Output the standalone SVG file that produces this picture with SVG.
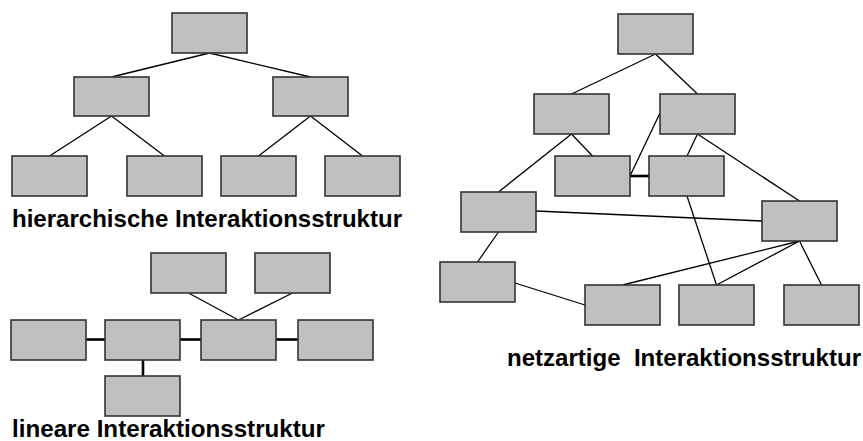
<svg xmlns="http://www.w3.org/2000/svg" width="863" height="441" viewBox="0 0 863 441">
<style>
.b{fill:#c0c0c0;stroke:#333;stroke-width:1.6}
.l{stroke:#000;stroke-width:1.3;fill:none}
.t{stroke:#000;stroke-width:2.6;fill:none}
.lbl{font-family:"Liberation Sans",Arial,sans-serif;font-weight:bold;font-size:24px;fill:#000}
</style>
<rect width="863" height="441" fill="#fff"/>
<g id="connectors">
<line class="l" x1="209.5" y1="53" x2="111.5" y2="77"/>
<line class="l" x1="209.5" y1="53" x2="310.5" y2="77"/>
<line class="l" x1="111.5" y1="116" x2="49.5" y2="156"/>
<line class="l" x1="111.5" y1="116" x2="164.5" y2="156"/>
<line class="l" x1="310.5" y1="116" x2="258.5" y2="156"/>
<line class="l" x1="310.5" y1="116" x2="362.5" y2="156"/>
<line class="l" x1="188.5" y1="293" x2="238.5" y2="320"/>
<line class="l" x1="292.5" y1="293" x2="238.5" y2="320"/>
<line class="t" x1="86" y1="339.5" x2="105" y2="339.5"/>
<line class="t" x1="180" y1="339.5" x2="201" y2="339.5"/>
<line class="t" x1="276" y1="339.5" x2="298" y2="339.5"/>
<line class="t" x1="143" y1="360" x2="143" y2="376"/>
<line class="l" x1="655.5" y1="54" x2="571.5" y2="94"/>
<line class="l" x1="655.5" y1="54" x2="697.5" y2="94"/>
<line class="l" x1="571.5" y1="134" x2="592.5" y2="156"/>
<line class="l" x1="571.5" y1="134" x2="498.5" y2="192"/>
<line class="l" x1="660" y1="113" x2="630" y2="176"/>
<line class="t" x1="630" y1="176" x2="649" y2="176"/>
<line class="l" x1="697.5" y1="134" x2="687" y2="156"/>
<line class="l" x1="697.5" y1="134" x2="799.5" y2="201"/>
<line class="l" x1="687" y1="196" x2="716.5" y2="285"/>
<line class="l" x1="536" y1="211" x2="762" y2="221"/>
<line class="l" x1="498.5" y1="232" x2="477.5" y2="262"/>
<line class="l" x1="515" y1="283" x2="585" y2="305"/>
<line class="l" x1="799.5" y1="241" x2="622.5" y2="285"/>
<line class="l" x1="799.5" y1="241" x2="716.5" y2="285"/>
<line class="l" x1="799.5" y1="241" x2="821.5" y2="285"/>
</g>
<g id="h1"><rect class="b" x="172" y="13" width="75" height="40"/></g>
<g id="h2"><rect class="b" x="74" y="77" width="75" height="39"/></g>
<g id="h3"><rect class="b" x="273" y="77" width="75" height="39"/></g>
<g id="h4"><rect class="b" x="12" y="156" width="75" height="40"/></g>
<g id="h5"><rect class="b" x="127" y="156" width="75" height="40"/></g>
<g id="h6"><rect class="b" x="221" y="156" width="75" height="40"/></g>
<g id="h7"><rect class="b" x="325" y="156" width="75" height="40"/></g>
<g id="l1"><rect class="b" x="151" y="253" width="75" height="40"/></g>
<g id="l2"><rect class="b" x="255" y="253" width="75" height="40"/></g>
<g id="l3"><rect class="b" x="11" y="320" width="75" height="40"/></g>
<g id="l4"><rect class="b" x="105" y="320" width="75" height="40"/></g>
<g id="l5"><rect class="b" x="201" y="320" width="75" height="40"/></g>
<g id="l6"><rect class="b" x="298" y="320" width="75" height="40"/></g>
<g id="l7"><rect class="b" x="105" y="376" width="75" height="40"/></g>
<g id="n1"><rect class="b" x="618" y="14" width="75" height="40"/></g>
<g id="n2"><rect class="b" x="534" y="94" width="75" height="40"/></g>
<g id="n3"><rect class="b" x="660" y="94" width="75" height="40"/></g>
<g id="n4"><rect class="b" x="555" y="156" width="75" height="40"/></g>
<g id="n5"><rect class="b" x="649" y="156" width="75" height="40"/></g>
<g id="n6"><rect class="b" x="461" y="192" width="75" height="40"/></g>
<g id="n7"><rect class="b" x="762" y="201" width="75" height="40"/></g>
<g id="n8"><rect class="b" x="440" y="262" width="75" height="40"/></g>
<g id="n9"><rect class="b" x="585" y="285" width="75" height="40"/></g>
<g id="n10"><rect class="b" x="679" y="285" width="75" height="40"/></g>
<g id="n11"><rect class="b" x="784" y="285" width="75" height="40"/></g>
<g id="labels">
<text class="lbl" x="12" y="227" textLength="390" lengthAdjust="spacingAndGlyphs">hierarchische Interaktionsstruktur</text>
<text class="lbl" x="12" y="437" textLength="313" lengthAdjust="spacingAndGlyphs">lineare Interaktionsstruktur</text>
<text class="lbl" x="507" y="366" textLength="354" lengthAdjust="spacingAndGlyphs" xml:space="preserve">netzartige  Interaktionsstruktur</text>
</g>
</svg>
